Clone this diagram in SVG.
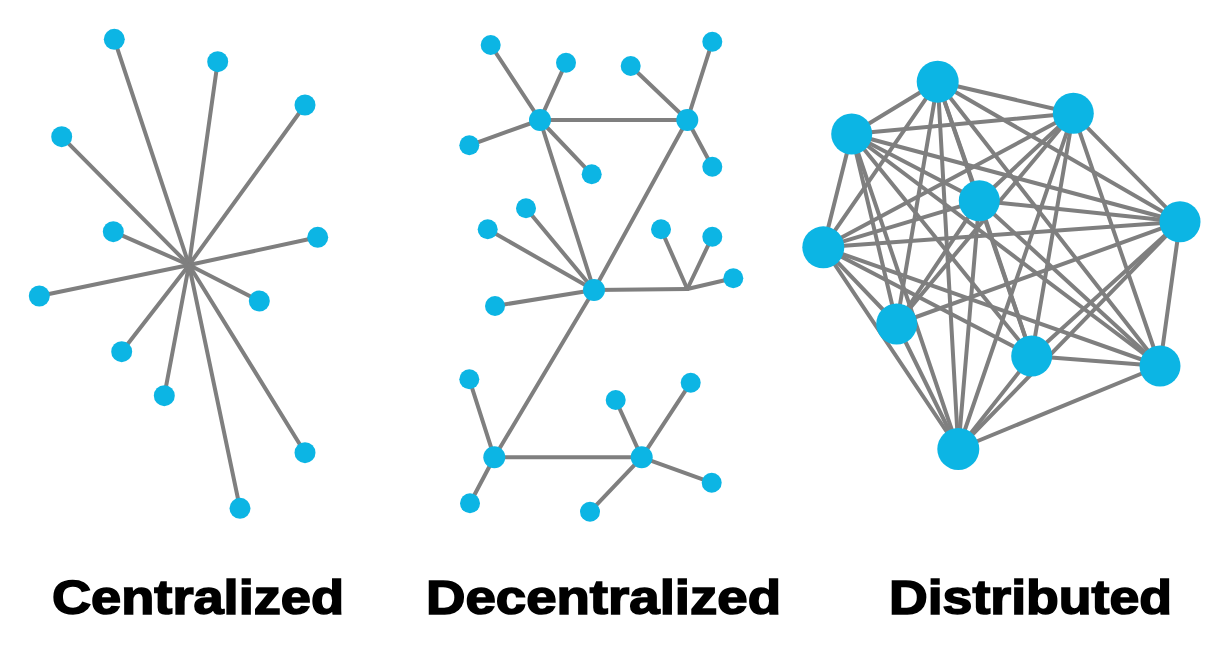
<svg xmlns="http://www.w3.org/2000/svg" width="1222" height="653" viewBox="0 0 1222 653">
<style>
.e line{stroke:#7f7f7f;stroke-width:4;stroke-linecap:round}
.n{fill:#0cb5e4}
.t{font-family:"Liberation Sans",Arial,sans-serif;font-weight:bold;font-size:48px;fill:#000;stroke:#000;stroke-width:1.6}
</style>
<rect width="1222" height="653" fill="#fff"/>
<!-- Centralized -->
<g id="central-edges" class="e">
<line x1="189" y1="265" x2="114.3" y2="39.3"/>
<line x1="189" y1="265" x2="217.7" y2="61.7"/>
<line x1="189" y1="265" x2="305" y2="105"/>
<line x1="189" y1="265" x2="61.7" y2="136.7"/>
<line x1="189" y1="265" x2="113.3" y2="231.7"/>
<line x1="189" y1="265" x2="317.7" y2="237.3"/>
<line x1="189" y1="265" x2="39.3" y2="296"/>
<line x1="189" y1="265" x2="259.3" y2="301"/>
<line x1="189" y1="265" x2="121.7" y2="351.7"/>
<line x1="189" y1="265" x2="164.3" y2="395.7"/>
<line x1="189" y1="265" x2="305" y2="452.7"/>
<line x1="189" y1="265" x2="240" y2="508.3"/>
</g>
<g id="central-nodes" class="n">
<circle id="c1" cx="114.3" cy="39.3" r="10.5"/>
<circle id="c2" cx="217.7" cy="61.7" r="10.5"/>
<circle id="c3" cx="305" cy="105" r="10.5"/>
<circle id="c4" cx="61.7" cy="136.7" r="10.5"/>
<circle id="c5" cx="113.3" cy="231.7" r="10.5"/>
<circle id="c6" cx="317.7" cy="237.3" r="10.5"/>
<circle id="c7" cx="39.3" cy="296" r="10.5"/>
<circle id="c8" cx="259.3" cy="301" r="10.5"/>
<circle id="c9" cx="121.7" cy="351.7" r="10.5"/>
<circle id="c10" cx="164.3" cy="395.7" r="10.5"/>
<circle id="c11" cx="305" cy="452.7" r="10.5"/>
<circle id="c12" cx="240" cy="508.3" r="10.5"/>
</g>
<!-- Decentralized -->
<g id="decentral-edges" class="e">
<line x1="540" y1="120" x2="687.3" y2="120"/>
<line x1="540" y1="120" x2="594" y2="290"/>
<line x1="687.3" y1="120" x2="594" y2="290"/>
<line x1="594" y1="290" x2="687.3" y2="289"/>
<line x1="594" y1="290" x2="494.3" y2="457.3"/>
<line x1="494.3" y1="457.3" x2="641.7" y2="457.3"/>
<line x1="540" y1="120" x2="490.7" y2="45"/>
<line x1="540" y1="120" x2="566" y2="62.7"/>
<line x1="540" y1="120" x2="469.3" y2="145.3"/>
<line x1="540" y1="120" x2="591.7" y2="174.3"/>
<line x1="687.3" y1="120" x2="630.7" y2="66"/>
<line x1="687.3" y1="120" x2="712.3" y2="41.7"/>
<line x1="687.3" y1="120" x2="712.3" y2="166.7"/>
<line x1="594" y1="290" x2="526" y2="208.3"/>
<line x1="594" y1="290" x2="487.7" y2="229.3"/>
<line x1="594" y1="290" x2="495" y2="306"/>
<line x1="687.3" y1="289" x2="661" y2="229.3"/>
<line x1="687.3" y1="289" x2="712.3" y2="236.7"/>
<line x1="687.3" y1="289" x2="733.3" y2="278.3"/>
<line x1="494.3" y1="457.3" x2="469.3" y2="379.3"/>
<line x1="494.3" y1="457.3" x2="470" y2="503.3"/>
<line x1="641.7" y1="457.3" x2="615.7" y2="400"/>
<line x1="641.7" y1="457.3" x2="690.7" y2="382.7"/>
<line x1="641.7" y1="457.3" x2="711.7" y2="482.7"/>
<line x1="641.7" y1="457.3" x2="590" y2="511.7"/>
</g>
<g id="decentral-nodes" class="n">
<circle id="hA" cx="540" cy="120" r="11"/>
<circle id="hB" cx="687.3" cy="120" r="11"/>
<circle id="hC" cx="594" cy="290" r="11"/>
<circle id="hE" cx="494.3" cy="457.3" r="11"/>
<circle id="hF" cx="641.7" cy="457.3" r="11"/>
<circle cx="490.7" cy="45" r="10"/>
<circle cx="566" cy="62.7" r="10"/>
<circle cx="469.3" cy="145.3" r="10"/>
<circle cx="591.7" cy="174.3" r="10"/>
<circle cx="630.7" cy="66" r="10"/>
<circle cx="712.3" cy="41.7" r="10"/>
<circle cx="712.3" cy="166.7" r="10"/>
<circle cx="526" cy="208.3" r="10"/>
<circle cx="487.7" cy="229.3" r="10"/>
<circle cx="495" cy="306" r="10"/>
<circle cx="661" cy="229.3" r="10"/>
<circle cx="712.3" cy="236.7" r="10"/>
<circle cx="733.3" cy="278.3" r="10"/>
<circle cx="469.3" cy="379.3" r="10"/>
<circle cx="470" cy="503.3" r="10"/>
<circle cx="615.7" cy="400" r="10"/>
<circle cx="690.7" cy="382.7" r="10"/>
<circle cx="711.7" cy="482.7" r="10"/>
<circle cx="590" cy="511.7" r="10"/>
</g>
<!-- Distributed -->
<g id="distributed-edges" class="e">
<line x1="937.7" y1="81.7" x2="1073.3" y2="113.3"/>
<line x1="937.7" y1="81.7" x2="851.7" y2="134"/>
<line x1="937.7" y1="81.7" x2="979.3" y2="200.7"/>
<line x1="937.7" y1="81.7" x2="1180" y2="221.7"/>
<line x1="937.7" y1="81.7" x2="823.3" y2="247.3"/>
<line x1="937.7" y1="81.7" x2="896.7" y2="324"/>
<line x1="937.7" y1="81.7" x2="1031.7" y2="356"/>
<line x1="937.7" y1="81.7" x2="1160" y2="366"/>
<line x1="937.7" y1="81.7" x2="958.3" y2="449"/>
<line x1="1073.3" y1="113.3" x2="851.7" y2="134"/>
<line x1="1073.3" y1="113.3" x2="979.3" y2="200.7"/>
<line x1="1073.3" y1="113.3" x2="1180" y2="221.7"/>
<line x1="1073.3" y1="113.3" x2="823.3" y2="247.3"/>
<line x1="1073.3" y1="113.3" x2="896.7" y2="324"/>
<line x1="1073.3" y1="113.3" x2="1031.7" y2="356"/>
<line x1="1073.3" y1="113.3" x2="1160" y2="366"/>
<line x1="1073.3" y1="113.3" x2="958.3" y2="449"/>
<line x1="851.7" y1="134" x2="979.3" y2="200.7"/>
<line x1="851.7" y1="134" x2="1180" y2="221.7"/>
<line x1="851.7" y1="134" x2="823.3" y2="247.3"/>
<line x1="851.7" y1="134" x2="896.7" y2="324"/>
<line x1="851.7" y1="134" x2="1031.7" y2="356"/>
<line x1="851.7" y1="134" x2="1160" y2="366"/>
<line x1="851.7" y1="134" x2="958.3" y2="449"/>
<line x1="979.3" y1="200.7" x2="1180" y2="221.7"/>
<line x1="979.3" y1="200.7" x2="823.3" y2="247.3"/>
<line x1="979.3" y1="200.7" x2="896.7" y2="324"/>
<line x1="979.3" y1="200.7" x2="1031.7" y2="356"/>
<line x1="979.3" y1="200.7" x2="1160" y2="366"/>
<line x1="979.3" y1="200.7" x2="958.3" y2="449"/>
<line x1="1180" y1="221.7" x2="823.3" y2="247.3"/>
<line x1="1180" y1="221.7" x2="896.7" y2="324"/>
<line x1="1180" y1="221.7" x2="1031.7" y2="356"/>
<line x1="1180" y1="221.7" x2="1160" y2="366"/>
<line x1="1180" y1="221.7" x2="958.3" y2="449"/>
<line x1="823.3" y1="247.3" x2="896.7" y2="324"/>
<line x1="823.3" y1="247.3" x2="1031.7" y2="356"/>
<line x1="823.3" y1="247.3" x2="1160" y2="366"/>
<line x1="823.3" y1="247.3" x2="958.3" y2="449"/>
<line x1="896.7" y1="324" x2="958.3" y2="449"/>
<line x1="1031.7" y1="356" x2="1160" y2="366"/>
<line x1="1031.7" y1="356" x2="958.3" y2="449"/>
<line x1="1160" y1="366" x2="958.3" y2="449"/>
</g>
<g id="distributed-nodes" class="n">
<circle id="d1" cx="937.7" cy="81.7" r="21"/>
<circle id="d2" cx="1073.3" cy="113.3" r="20.5"/>
<circle id="d3" cx="851.7" cy="134" r="20.5"/>
<circle id="d4" cx="979.3" cy="200.7" r="20.5"/>
<circle id="d5" cx="1180" cy="221.7" r="20.5"/>
<circle id="d6" cx="823.3" cy="247.3" r="21"/>
<circle id="d7" cx="896.7" cy="324" r="20.5"/>
<circle id="d8" cx="1031.7" cy="356" r="20.5"/>
<circle id="d9" cx="1160" cy="366" r="20.5"/>
<circle id="d10" cx="958.3" cy="449" r="21"/>
</g>
<g id="labels">
<text class="t" x="52" y="614" textLength="292" lengthAdjust="spacingAndGlyphs">Centralized</text>
<text class="t" x="426" y="614" textLength="355" lengthAdjust="spacingAndGlyphs">Decentralized</text>
<text class="t" x="889" y="614" textLength="283" lengthAdjust="spacingAndGlyphs">Distributed</text>
</g>
</svg>
